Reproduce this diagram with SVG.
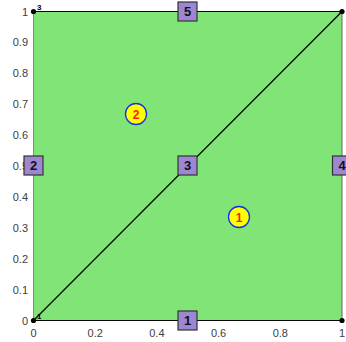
<svg xmlns="http://www.w3.org/2000/svg" width="346" height="342" viewBox="0 0 346 342">
<style>
.tick{font-family:"Liberation Sans",Arial,sans-serif;font-size:11px;fill:#404040}
.edge{stroke:#000;stroke-width:1.2;fill:none}
.sq rect{fill:#9d87d2;stroke:#333;stroke-width:1.2}
.sq text{font-family:"Liberation Sans",Arial,sans-serif;font-size:13px;font-weight:bold;fill:#111;text-anchor:middle}
.el circle{fill:#ffff00;stroke:#1a2ee6;stroke-width:1.3}
.el text{font-family:"Liberation Sans",Arial,sans-serif;font-size:12px;font-weight:bold;fill:#ff1a1a;text-anchor:middle}
.vl{font-family:"Liberation Sans",Arial,sans-serif;font-size:8px;font-weight:bold;fill:#000}
</style>
<rect width="346" height="342" fill="#fff"/>
<rect x="33.5" y="11.5" width="308.5" height="309" fill="#80e576"/>
<g id="axes">
<line x1="33.5" y1="11.5" x2="33.5" y2="320.5" stroke="#888" stroke-width="1"/>
<line x1="342" y1="11.5" x2="342" y2="320.5" stroke="#666" stroke-width="1"/>
<g class="tick" text-anchor="end">
<text x="28" y="324.5">0</text>
<text x="28" y="293.6">0.1</text>
<text x="28" y="262.7">0.2</text>
<text x="28" y="231.8">0.3</text>
<text x="28" y="200.9">0.4</text>
<text x="28" y="170">0.5</text>
<text x="28" y="139.1">0.6</text>
<text x="28" y="108.2">0.7</text>
<text x="28" y="77.3">0.8</text>
<text x="28" y="46.4">0.9</text>
<text x="28" y="15.5">1</text>
</g>
<g class="tick" text-anchor="middle">
<text x="33.5" y="337">0</text>
<text x="95.2" y="337">0.2</text>
<text x="156.9" y="337">0.4</text>
<text x="218.6" y="337">0.6</text>
<text x="280.3" y="337">0.8</text>
<text x="342" y="337">1</text>
</g>
</g>
<g id="connectors">
<line class="edge" x1="33.5" y1="11.5" x2="342" y2="11.5"/>
<line class="edge" x1="33.5" y1="320.5" x2="342" y2="320.5"/>
<line class="edge" x1="33.5" y1="320.5" x2="342" y2="11.5"/>
</g>
<g id="vertices">
<circle cx="33.5" cy="320.5" r="2.6"/>
<circle cx="33.5" cy="11.5" r="2.6"/>
<circle cx="342" cy="11.5" r="2.6"/>
<circle cx="342" cy="320.5" r="2.6"/>
<text class="vl" x="37" y="10">3</text>
<text class="vl" x="37" y="319" font-weight="normal">1</text>
</g>
<g id="edge1" class="sq"><rect x="178" y="311" width="19" height="19"/><text x="187.5" y="325">1</text></g>
<g id="edge2" class="sq"><rect x="24" y="156" width="19" height="19"/><text x="33.5" y="170">2</text></g>
<g id="edge3" class="sq"><rect x="178" y="156" width="19" height="19"/><text x="187.5" y="170">3</text></g>
<g id="edge4" class="sq"><rect x="332.5" y="156" width="19" height="19"/><text x="342" y="170">4</text></g>
<g id="edge5" class="sq"><rect x="178" y="2" width="19" height="19"/><text x="187.5" y="16">5</text></g>
<g id="elem1" class="el"><circle cx="239" cy="217" r="10.5"/><text x="239" y="221.5">1</text></g>
<g id="elem2" class="el"><circle cx="136" cy="114" r="10.5"/><text x="136" y="118.5">2</text></g>
</svg>
